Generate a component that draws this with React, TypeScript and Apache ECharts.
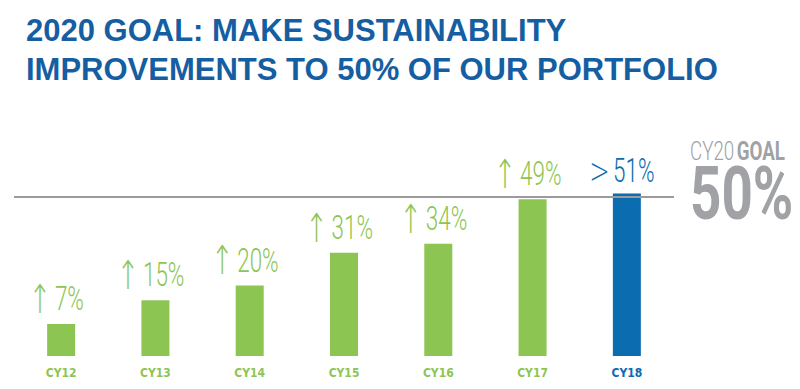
import React, { useEffect, useRef } from "react";
import * as echarts from "echarts";

const titleLines = ["2020 GOAL: MAKE SUSTAINABILITY", "IMPROVEMENTS TO 50% OF OUR PORTFOLIO"];
const categories = ["CY12", "CY13", "CY14", "CY15", "CY16", "CY17", "CY18"];
const values = [7, 15, 20, 31, 34, 49, 51];
const markers = ["↑", "↑", "↑", "↑", "↑", "↑", ">"];
const goalValue = 50;
const goalCaption = ["CY20", "GOAL"];
const goalText = "50%";

const GREEN = "#8dc553";
const BLUE = "#0b6cb0";
const GREY = "#a0a2a5";
const TITLE_BLUE = "#165ea2";
const Y_MIN = -3.8;

export default function App() {
  const ref = useRef<HTMLDivElement>(null);
  useEffect(() => {
    if (!ref.current) return;
    const chart = echarts.init(ref.current, null, { renderer: "svg" });
    const last = categories.length - 1;
    const colorOf = (i: number) => (i === last ? BLUE : GREEN);
    chart.setOption({
      animation: false,
      backgroundColor: "#ffffff",
      title: {
        text: titleLines.join("\n"),
        left: 26,
        top: 11,
        padding: 0,
        textStyle: {
          fontFamily: "'Liberation Sans', Arial, sans-serif",
          fontWeight: "bold",
          fontSize: 31,
          lineHeight: 39,
          color: TITLE_BLUE,
        },
      },
      grid: { left: 14, right: 126, top: 178, bottom: 33 },
      xAxis: {
        type: "category",
        data: categories,
        axisLine: { show: false },
        axisTick: { show: false },
        axisLabel: {
          margin: 11,
          fontSize: 12,
          fontWeight: "bold",
          fontFamily: "'Liberation Sans Narrow', 'DejaVu Sans Condensed', sans-serif",
          color: (_v: any, i: number) => colorOf(i),
        },
      },
      yAxis: {
        type: "value",
        min: Y_MIN,
        max: 56.2,
        startValue: Y_MIN,
        show: false,
      },
      series: [
        {
          type: "bar",
          data: values.map((v, i) => ({ value: v, itemStyle: { color: colorOf(i) } })),
          barWidth: 28,
          markLine: {
            silent: true,
            symbol: "none",
            label: { show: false },
            lineStyle: { color: "#9b9b9b", width: 2, type: "solid" },
            data: [{ yAxis: goalValue }],
          },
        },
        {
          type: "custom",
          silent: true,
          z: 5,
          data: values.map((v, i) => [i, v]),
          renderItem: (params: any, api: any) => {
            const i = api.value(0);
            const v = api.value(1);
            const p = api.coord([i, v]);
            const c = colorOf(i);
            const isArrow = markers[i] === "↑";
            return {
              type: "text",
              x: p[0] - 5,
              y: p[1] - 5,
              scaleX: 0.68,
              style: {
                text: `{a|${markers[i]}}{s| }{b|${v}%}`,
                textAlign: "center",
                textVerticalAlign: "bottom",
                rich: {
                  a: {
                    fontFamily: "'DejaVu Sans', sans-serif",
                    fontWeight: 200,
                    fontSize: isArrow ? 40 : 36,
                    fill: c,
                    color: c,
                  },
                  s: { fontFamily: "Roboto, sans-serif", fontSize: isArrow ? 22 : 20, fill: c, color: c },
                  b: { fontFamily: "Roboto, sans-serif", fontWeight: 300, fontSize: 33, fill: c, color: c },
                },
              },
            };
          },
        },
      ],
      graphic: [
        {
          type: "group",
          left: 690,
          top: 139,
          children: [
            {
              type: "text",
              x: 0,
              y: 0,
              scaleX: 0.75,
              style: {
                text: `{a|${goalCaption[0]}} {b|${goalCaption[1]}}`,
                rich: {
                  a: { fontFamily: "Roboto, sans-serif", fontWeight: 300, fontSize: 25, fill: GREY, color: GREY },
                  b: { fontFamily: "Roboto, sans-serif", fontWeight: "bold", fontSize: 25, fill: GREY, color: GREY },
                },
              },
            },
          ],
        },
        {
          type: "group",
          left: 690,
          top: 156,
          children: [
            {
              type: "text",
              x: 0,
              y: 0,
              scaleX: 0.73,
              style: {
                text: goalText,
                fontFamily: "Roboto, sans-serif",
                fontWeight: "bold",
                fontSize: 75,
                fill: GREY,
              },
            },
          ],
        },
      ],
    });
    return () => chart.dispose();
  }, []);
  return <div ref={ref} style={{ width: 800, height: 389, position: "absolute", left: 0, top: 0 }} />;
}
